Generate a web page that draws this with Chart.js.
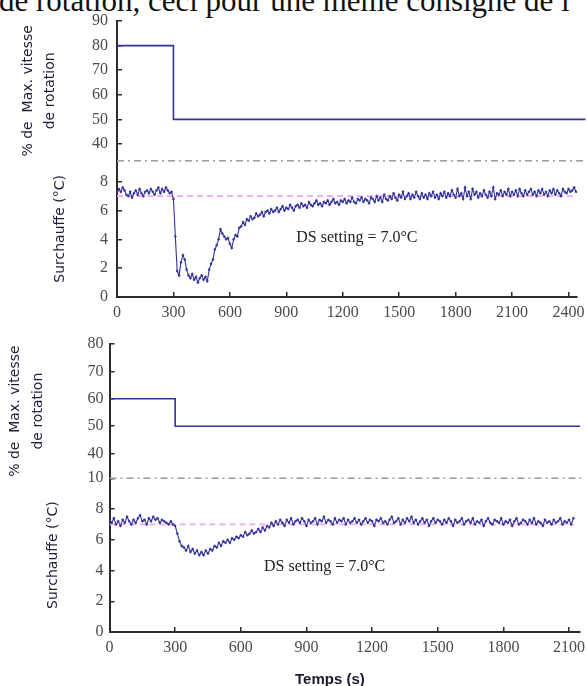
<!DOCTYPE html>
<html>
<head>
<meta charset="utf-8">
<script src="https://cdn.jsdelivr.net/npm/chart.js@4.4.0/dist/chart.umd.min.js"></script>
<style>
  body { margin: 0; background: #fff; width: 587px; height: 686px; overflow: hidden; position: relative; }
  .head { position: absolute; left: -1px; top: -17px; font: 31px "Liberation Serif", serif; color: #111; white-space: nowrap; }
  canvas { position: absolute; left: 0; }
  #figTop { top: 0; }
  #figBottom { top: 330px; }
  .xtitle { position: absolute; left: 295px; top: 670px; font: bold 15px "Liberation Sans", Arial, sans-serif; color: #1b1b2f; }
</style>
</head>
<body>
<div class="head">de rotation, ceci pour une même consigne de l</div>
<canvas id="figTop" width="587" height="330"></canvas>
<canvas id="figBottom" width="587" height="356"></canvas>
<div class="xtitle">Temps (s)</div>
<script>
// sampling of the superheat traces (s)
const timeStep = 10;
const dsSetting = 7.0;

// ---- top figure ----
const xTicksTop = [0, 300, 600, 900, 1200, 1500, 1800, 2100, 2400];
const speedTicksTop = [40, 50, 60, 70, 80, 90];
const heatTicksTop = [0, 2, 4, 6, 8];
const speedTopTimes = [0, 300, 2490];
const speedTopValues = [80, 50, 50];
const superheatTop = [
  // 0 - 290
  7.2, 7.5, 7.3, 7.6, 7.4, 7.1, 7.0, 7.3, 6.9, 7.2,
  7.4, 7.1, 7.5, 7.2, 7.0, 7.3, 7.4, 7.2, 7.5, 7.3,
  7.1, 7.4, 7.6, 7.2, 7.5, 7.3, 7.6, 7.4, 7.2, 7.3,
  // 300 - 650
  6.8, 4.2, 1.8, 1.5, 2.4, 2.9, 2.6, 1.9, 1.5, 1.3,
  1.6, 1.2, 1.4, 1.0, 1.3, 1.5, 1.2, 1.4, 1.1, 1.9,
  2.3, 2.6, 3.3, 3.6, 4.0, 4.7, 4.4, 4.2, 4.0, 4.1,
  3.7, 3.4, 4.0, 4.3, 4.2, 4.8,
  // 660 - 2440
  4.9, 5.2, 5.0, 5.4, 5.3, 5.6, 5.4, 5.5, 5.8, 5.6,
  5.7, 5.9, 5.6, 5.9, 6.0, 5.8, 6.1, 5.9, 6.0, 6.2,
  5.9, 6.1, 6.3, 6.0, 6.2, 6.1, 6.4, 6.2, 6.0, 6.3,
  6.4, 6.2, 6.5, 6.3, 6.4, 6.2, 6.6, 6.4, 6.3, 6.5,
  6.7, 6.4, 6.5, 6.3, 6.6, 6.5, 6.7, 6.4, 6.6, 6.8,
  6.5, 6.6, 6.4, 6.7, 6.6, 6.8, 6.5, 6.7, 6.6, 6.9,
  6.6, 6.5, 6.8, 6.7, 6.9, 6.6, 6.8, 6.7, 6.5, 6.9,
  6.8, 6.6, 7.0, 6.7, 6.9, 6.6, 7.1, 6.8, 6.7, 7.0,
  6.8, 7.2, 6.9, 6.7, 7.1, 6.9, 7.3, 6.8, 7.0, 7.2,
  6.8, 7.1, 6.9, 7.3, 7.0, 6.8, 7.2, 6.9, 7.1, 6.8,
  7.2, 7.0, 7.3, 6.9, 7.1, 6.8, 7.2, 7.0, 7.3, 6.9,
  7.2, 7.0, 7.4, 7.1, 6.9, 7.5, 7.0, 7.2, 6.8, 7.6,
  7.0, 7.3, 6.8, 7.5, 7.1, 7.3, 6.9, 7.2, 7.0, 7.4,
  7.1, 6.9, 7.3, 7.0, 7.6, 6.8, 7.2, 7.1, 7.4, 7.0,
  7.3, 7.1, 7.5, 7.0, 7.3, 7.1, 7.4, 7.0, 7.5, 7.2,
  7.0, 7.4, 7.1, 7.3, 7.5, 7.1, 7.3, 7.0, 7.4, 7.2,
  7.5, 7.1, 7.3, 7.0, 7.4, 7.2, 7.5, 7.1, 7.4, 7.2,
  7.0, 7.5, 7.3, 7.2, 7.5, 7.3, 7.4, 7.6, 7.3
];

// ---- bottom figure ----
const xTicksBottom = [0, 300, 600, 900, 1200, 1500, 1800, 2100];
const speedTicksBottom = [40, 50, 60, 70, 80];
const heatTicksBottom = [0, 2, 4, 6, 8, 10];
const speedBottomTimes = [0, 300, 2150];
const speedBottomValues = [60, 50, 50];
const superheatBottom = [
  // 0 - 290
  7.3, 7.1, 7.4, 7.0, 7.2, 6.9, 7.3, 7.1, 7.5, 7.2,
  7.0, 7.3, 7.1, 7.4, 7.6, 7.2, 7.3, 7.0, 7.4, 7.2,
  7.5, 7.3, 7.4, 7.1, 7.3, 7.2, 7.1, 7.0, 7.2, 7.0,
  // 300 - 800
  6.9, 6.4, 5.9, 5.6, 5.5, 5.3, 5.6, 5.2, 5.4, 5.1,
  5.3, 5.0, 5.2, 5.0, 5.3, 5.1, 5.4, 5.3, 5.6, 5.5,
  5.8, 5.6, 5.9, 5.8, 6.0, 5.8, 6.1, 6.0, 6.2, 6.1,
  6.3, 6.2, 6.5, 6.3, 6.4, 6.6, 6.4, 6.5, 6.7, 6.5,
  6.8, 6.6, 6.9, 6.8, 7.1, 6.9, 7.2, 7.0, 7.3, 7.1,
  6.9,
  // 810 - 2120
  7.3, 7.1, 7.4, 7.0, 7.2, 7.3, 7.1, 7.4, 7.2, 6.9,
  7.3, 7.1, 7.2, 7.4, 7.0, 7.3, 7.2, 7.5, 7.1, 7.3,
  7.2, 7.0, 7.4, 7.1, 7.3, 7.2, 7.4, 7.0, 7.3, 7.1,
  7.2, 7.4, 7.1, 7.3, 7.0, 7.2, 7.4, 7.1, 7.3, 7.2,
  6.9, 7.3, 7.2, 7.4, 7.1, 7.2, 7.0, 7.3, 7.5, 7.1,
  7.2, 7.4, 7.0, 7.3, 7.1, 7.4, 7.2, 7.5, 7.1, 7.3,
  7.0, 7.2, 7.4, 7.1, 7.3, 6.9, 7.2, 7.4, 7.1, 7.3,
  7.2, 7.0, 7.3, 7.1, 7.4, 7.2, 6.9, 7.3, 7.1, 7.2,
  7.4, 7.0, 7.2, 7.3, 7.1, 7.4, 7.0, 7.2, 7.1, 7.3,
  6.9, 7.2, 7.4, 7.1, 7.0, 7.3, 7.2, 7.1, 7.4, 7.0,
  7.2, 7.1, 7.3, 6.9, 7.2, 7.4, 7.0, 7.1, 7.3, 7.2,
  7.0, 7.3, 7.1, 7.4, 7.0, 7.2, 7.1, 6.9, 7.3, 7.1,
  7.2, 7.0, 7.3, 7.1, 7.2, 7.4, 7.0, 7.2, 7.1, 7.3,
  7.0, 7.4
];

const navy = '#33339a';
const axisColor = '#2b2b2b';
const tickFont = { family: '"Liberation Serif", serif', size: 16 };
const titleFamily = '"DejaVu Sans", Verdana, sans-serif';

const noteLabel = {
  id: 'noteLabel',
  afterDatasetsDraw(chart, args, opts) {
    const { ctx, scales } = chart;
    ctx.save();
    ctx.font = '16px "Liberation Serif", serif';
    ctx.fillStyle = '#222';
    ctx.textAlign = 'center';
    ctx.textBaseline = 'middle';
    ctx.fillText(opts.text, scales.x.getPixelForValue(opts.x), scales.yHeat.getPixelForValue(opts.y));
    ctx.restore();
  }
};

function points(times, values) {
  return times.map((t, i) => ({ x: t, y: values[i] }));
}

function fixedTicks(values) {
  return s => { s.ticks = values.map(v => ({ value: v })); };
}

function makeFigure(id, f) {
  const heatPts = f.heat.map((v, i) => ({ x: i * timeStep, y: v }));
  const lastT = (f.heat.length - 1) * timeStep;
  const grid = { drawOnChartArea: false, tickLength: -5, color: axisColor, lineWidth: 1.5 };
  const border = { color: axisColor, width: 2 };
  const label = v => String(v);
  const yTicks = { padding: f.tickPad, color: '#4a4a4a', font: tickFont, callback: label, autoSkip: false };
  return new Chart(document.getElementById(id), {
    type: 'line',
    data: {
      datasets: [
        { data: heatPts, yAxisID: 'yHeat', borderColor: navy, borderWidth: 1.1,
          pointRadius: 1, pointBorderWidth: 0.6, pointBackgroundColor: navy, pointBorderColor: navy },
        { data: [{ x: 0, y: dsSetting }, { x: lastT, y: dsSetting }], yAxisID: 'yHeat',
          borderColor: '#f2a6f2', borderWidth: 1.6, borderDash: [6, 4], pointRadius: 0 },
        { data: [{ x: 0, y: f.breakAt }, { x: f.breakEnd, y: f.breakAt }], yAxisID: 'yHeat',
          borderColor: '#9a9a9a', borderWidth: 1.5, borderDash: [7, 4, 2, 4], pointRadius: 0, clip: false },
        { data: points(f.speedTimes, f.speedValues), yAxisID: 'ySpeed', stepped: true,
          borderColor: navy, borderWidth: 1.6, pointRadius: 0, clip: false }
      ]
    },
    options: {
      responsive: false,
      animation: false,
      devicePixelRatio: 1,
      layout: { padding: { top: f.padTop, right: f.padRight, left: 0, bottom: 0 } },
      plugins: {
        legend: { display: false },
        tooltip: { enabled: false },
        noteLabel: { text: 'DS setting = 7.0°C', x: f.noteX, y: f.noteY }
      },
      scales: {
        x: {
          type: 'linear', min: 0, max: f.xMax, border, grid,
          ticks: { padding: 11, color: '#4a4a4a', font: tickFont, callback: label, maxRotation: 0, autoSkip: false },
          afterBuildTicks: fixedTicks(f.xTicks),
          afterFit(s) { s.height = f.xHeight; s.paddingLeft = 0; s.paddingRight = 0; }
        },
        ySpeed: {
          type: 'linear', position: 'left', stack: 'fig', stackWeight: f.speedWeight, weight: 1,
          min: f.speedMin, max: f.speedMax, border, grid, ticks: yTicks,
          afterBuildTicks: fixedTicks(f.speedTicks),
          title: { display: true, text: ['% de  Max. vitesse', 'de rotation'], color: '#1e1e3a',
                   font: { family: titleFamily, size: 14, lineHeight: f.titleLine / 14 },
                   padding: { top: f.speedTitlePad } },
          afterFit(s) { s.width = f.axisWidth; s.paddingTop = 0; s.paddingBottom = 0; }
        },
        yHeat: {
          type: 'linear', position: 'left', stack: 'fig', stackWeight: f.heatWeight, weight: 0,
          min: 0, max: f.breakAt, border, grid, ticks: yTicks,
          afterBuildTicks: fixedTicks(f.heatTicks),
          title: { display: true, text: 'Surchauffe (°C)', color: '#1e1e3a',
                   font: { family: titleFamily, size: 14, lineHeight: 16 / 14 },
                   padding: { top: f.heatTitlePad } },
          afterFit(s) { s.width = f.axisWidth; s.paddingTop = 0; s.paddingBottom = 0; }
        }
      }
    },
    plugins: [noteLabel]
  });
}

makeFigure('figTop', {
  heat: superheatTop, speedTimes: speedTopTimes, speedValues: speedTopValues,
  xTicks: xTicksTop, speedTicks: speedTicksTop, heatTicks: heatTicksTop,
  speedMin: 33.2, speedMax: 90, breakAt: 9.46, breakEnd: 2490,
  speedWeight: 139.7, heatWeight: 136.3,
  xMax: 2445, xHeight: 33, padTop: 21, padRight: 10, axisWidth: 117, tickPad: 14,
  titleLine: 22, speedTitlePad: 17, heatTitlePad: 52,
  noteX: 1275, noteY: 4.1
});

makeFigure('figBottom', {
  heat: superheatBottom, speedTimes: speedBottomTimes, speedValues: speedBottomValues,
  xTicks: xTicksBottom, speedTicks: speedTicksBottom, heatTicks: heatTicksBottom,
  speedMin: 31, speedMax: 80, breakAt: 10, breakEnd: 2170,
  speedWeight: 134.5, heatWeight: 154,
  xMax: 2150, xHeight: 54, padTop: 14, padRight: 7, axisWidth: 109.5, tickPad: 11,
  titleLine: 23, speedTitlePad: 4, heatTitlePad: 45,
  noteX: 983, noteY: 4.24
});
</script>
</body>
</html>
